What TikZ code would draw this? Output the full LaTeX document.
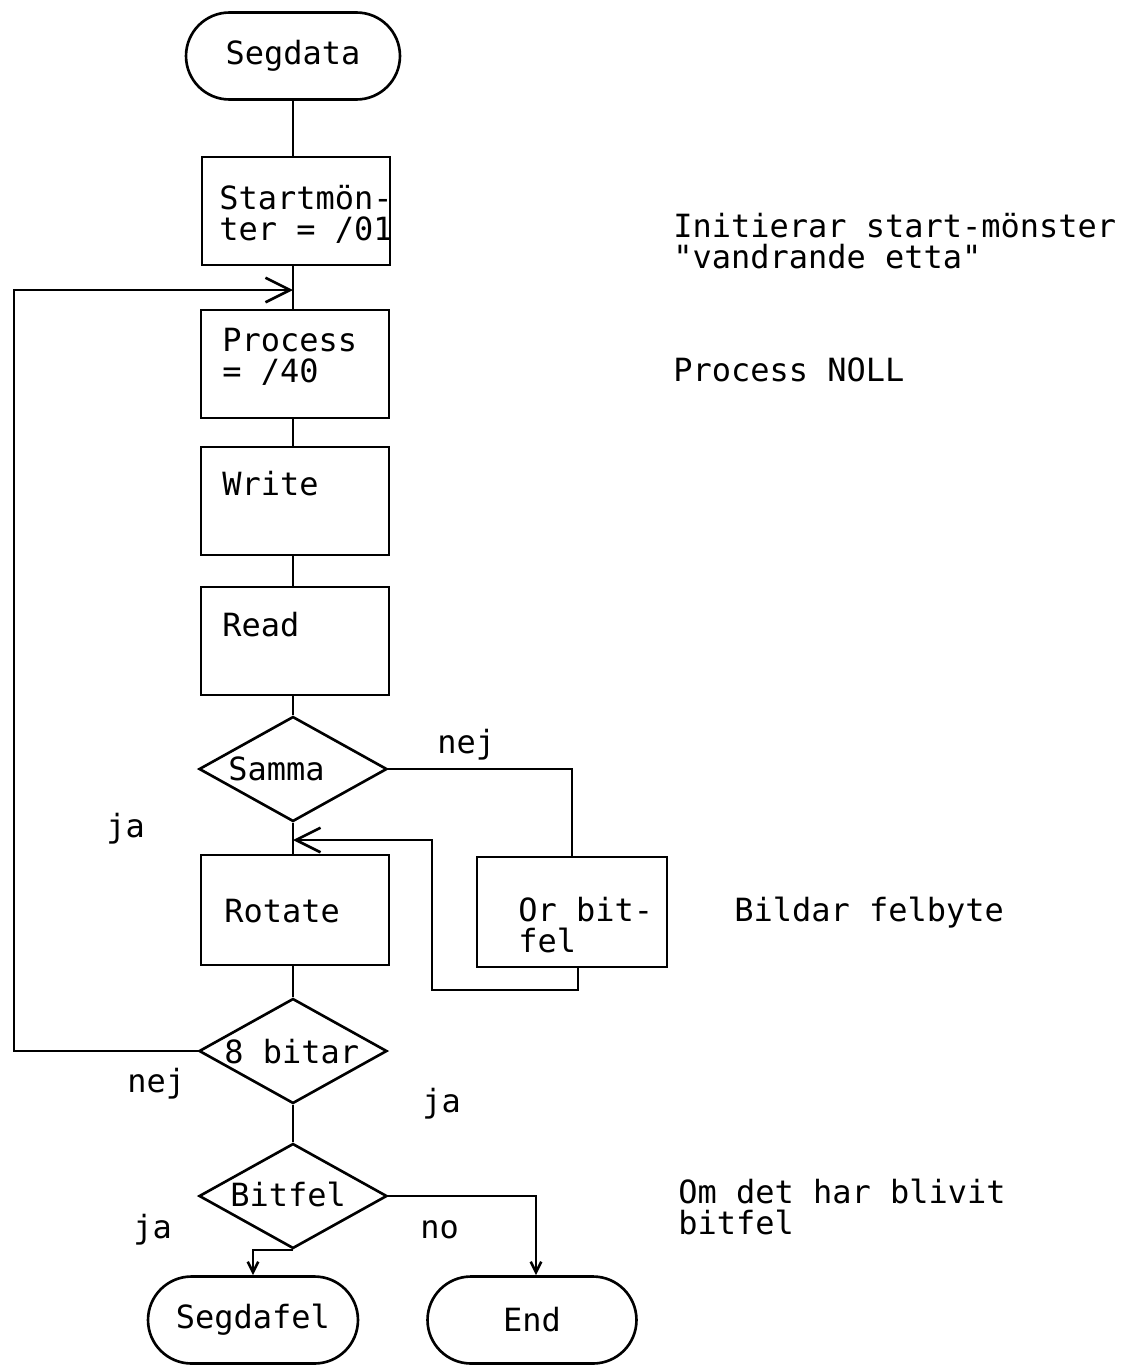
\documentclass[tikz,border=0pt]{standalone}
\usepackage{fontspec}
\newfontfamily\plotter{DejaVu Sans Mono}
\usetikzlibrary{shapes.geometric,arrows.meta}
\begin{document}
\begin{tikzpicture}[x=0.02cm,y=-0.02cm, line width=1.5pt,
  every node/.style={font=\plotter\fontsize{18.2}{17.5}\selectfont},
  procbox/.style={draw, rectangle, minimum width=3.76cm, minimum height=2.16cm, inner sep=0pt},
  term/.style={draw, rectangle, rounded corners=0.87cm, minimum height=1.74cm, inner sep=0pt},
  decide/.style={draw, diamond, minimum width=3.76cm, minimum height=2.1cm, inner sep=0pt},
  txt/.style={anchor=base west, inner sep=0pt, align=left},
  bigarrow/.style={-{Straight Barb[length=14pt,width=14pt,line width=1.5pt]}},
  smallarrow/.style={-{Straight Barb[length=6pt,width=6pt,line width=1.5pt]}}]
\useasboundingbox (0,0) rectangle (1125,1369);

% terminals
\node[term, minimum width=4.28cm] (segdata) at (293,56) {Segdata};
\node[term, minimum width=4.2cm] (segdafel) at (253,1320) {Segdafel};
\node[term, minimum width=4.18cm] (end) at (532,1320) {End};

% process boxes
\node[procbox] (start) at (296,211) {};
\node[txt] (starttxt) at (218,240) {Startmön-\\ter = /01};
\node[procbox] (proc) at (295,364) {};
\node[txt] (proctxt) at (221,382) {Process\\= /40};
\node[procbox] (write) at (295,501) {};
\node[txt] (writetxt) at (221,495) {Write};
\node[procbox] (read) at (295,641) {};
\node[txt] (readtxt) at (221,636) {Read};
\node[procbox, minimum height=2.2cm] (rotate) at (295,910) {};
\node[txt] (rotatetxt) at (223,922) {Rotate};
\node[procbox, minimum width=3.8cm, minimum height=2.2cm] (orbit) at (572,912) {};
\node[txt] (orbittxt) at (517,952) {Or bit-\\fel};

% decisions
\node[decide] (samma) at (293,769) {};
\node[txt] (sammatxt) at (227,780) {Samma};
\node[decide] (bits) at (293,1051) {};
\node[txt] (bitstxt) at (223,1063) {8 bitar};
\node[decide] (bitfel) at (293,1196) {};
\node[txt] (bitfeltxt) at (229,1206) {Bitfel};

% annotations
\node[txt] (ann1) at (672,268) {Initierar start-mönster\\"vandrande etta"};
\node[txt] (ann2) at (672,381) {Process NOLL};
\node[txt] (ann3) at (733,921) {Bildar felbyte};
\node[txt] (ann4) at (677,1234) {Om det har blivit\\bitfel};

% branch labels
\node[txt] (nej1) at (436,753) {nej};
\node[txt] (ja1) at (105,837) {ja};
\node[txt] (nej2) at (126,1092) {nej};
\node[txt] (ja2) at (421,1112) {ja};
\node[txt] (ja3) at (132,1238) {ja};
\node[txt] (no) at (419,1238) {no};

% coordinates
\coordinate (loopin) at (293,290);
\coordinate (retin) at (293,840);

% connectors
\draw (segdata.south) -- (segdata.south |- start.north);
\draw (segdata.south |- start.south) -- (segdata.south |- proc.north);
\draw (segdata.south |- proc.south) -- (segdata.south |- write.north);
\draw (segdata.south |- write.south) -- (segdata.south |- read.north);
\draw (segdata.south |- read.south) -- (samma.north);
\draw (samma.south) -- (samma.south |- rotate.north);
\draw (samma.south |- rotate.south) -- (bits.north);
\draw (bits.south) -- (bitfel.north);
\draw (samma.east) -| (orbit.north);
\draw[bigarrow] ([xshift=0.12cm]orbit.south) |- (432,990) -- (432,840) -- (retin);
\draw[bigarrow] (bits.west) -- (14,1051) -- (14,290) -- (loopin);
\draw[smallarrow] (bitfel.south) -| (segdafel.north);
\draw[smallarrow] (bitfel.east) -| ([xshift=0.08cm]end.north);
\end{tikzpicture}
\end{document}
